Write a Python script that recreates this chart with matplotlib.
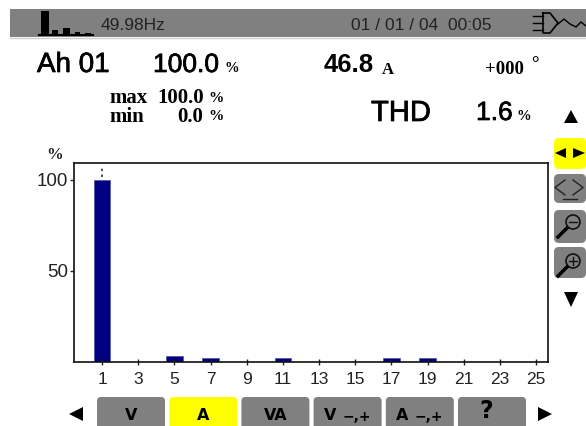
import matplotlib.pyplot as plt
import matplotlib.patheffects as pe
from matplotlib.patches import Rectangle, FancyBboxPatch, Polygon, Circle

W, H = 586, 426
SANS = 'Liberation Sans'
SERIF = 'Liberation Serif'
BOLD = 'DejaVu Sans'

ranks = list(range(1, 26))
percent = [100.0, 0, 0, 0, 3.2, 0, 2.2, 0, 0, 0, 2.2, 0, 0, 0, 0, 0, 2.0, 0, 2.0, 0, 0, 0, 0, 0, 0]
x_ticks = list(range(1, 26, 2))
y_ticks = [50, 100]
buttons = ['V', 'A', 'VA', 'V', 'A', '?']

fig = plt.figure(figsize=(W / 100, H / 100), dpi=100)

# whole picture in pixels, for the instrument screen around the chart
ui = fig.add_axes([0, 0, 1, 1])
ui.set_xlim(0, W)
ui.set_ylim(H, 0)
ui.axis('off')

ax = fig.add_axes([74 / W, 1 - 362 / H, 474 / W, 198.5 / H])
ax.bar(ranks, percent, width=0.9, color='#000080', edgecolor='#5050a8', linewidth=0.5)
ax.plot([1, 1], [101.5, 107.5], color='#333333', lw=1.2, ls=(0, (1.5, 2)))
ax.set_xlim(-0.55, 25.66)
ax.set_ylim(0, 109)
ax.set_xticks(x_ticks)
ax.set_yticks(y_ticks)
ax.tick_params(axis='x', length=4, width=1, pad=5, labelsize=12.5, direction='inout', colors='#222222')
ax.tick_params(axis='y', length=3, width=1, pad=1, labelsize=13.5, direction='out', colors='#222222')
for lab in ax.get_xticklabels() + ax.get_yticklabels():
    lab.set_family(SANS)
for s in ax.spines.values():
    s.set_linewidth(1.2)
    s.set_color('#111111')


def put(x, y, s, size, family=SANS, weight='normal', color='black', ha='left', heavy=0):
    t = ui.text(x, y, s, fontsize=size, family=family, weight=weight, color=color, ha=ha, va='center')
    if heavy:
        t.set_path_effects([pe.withStroke(linewidth=heavy, foreground=color)])


def tri(points, color='black'):
    ui.add_patch(Polygon(points, closed=True, color=color, lw=0))


# header band
ui.add_patch(Rectangle((10, 9), 576, 28, color='#808080', lw=0))
ui.plot([10, 586], [37.5, 37.5], color='#cfcfcf', lw=1)
for x0, w, top in [(41, 8, 11), (52, 6, 30), (63, 7, 28), (75, 5, 32), (85, 6, 33)]:
    ui.add_patch(Rectangle((x0, top), w, 35 - top, color='black', lw=0))
ui.plot([39, 93], [35, 35], color='black', lw=1.5)
put(101, 25, '49.98Hz', 12.5, color='#222222')
put(351, 25, '01 / 01 / 04  00:05', 12.5, color='#222222')

# plug icon
for py in [16, 23, 30]:
    ui.plot([533, 543], [py, py], color='black', lw=1)
ui.plot([543, 550, 558, 550, 543, 543], [13, 13, 23, 33, 33, 13], color='black', lw=1.2)
ui.plot([558, 564, 570, 576, 581, 586], [24, 19, 24, 27, 22, 26], color='black', lw=1)

# readings
put(37, 65, 'Ah 01', 20, heavy=0.5)
put(153, 65, '100.0', 19, heavy=0.5)
put(225, 69, '%', 10.5, SERIF, 'bold')
put(324, 65, '46.8', 18.5, weight='bold')
put(382, 70, 'A', 12, SERIF, 'bold')
put(485, 69, '+000', 13.5, SERIF, 'bold')
put(531, 65, '°', 13.5, SERIF, 'bold')
put(109, 98, 'max', 15, SERIF, 'bold')
put(157, 98, '100.0', 15, SERIF, 'bold')
put(208, 98, '%', 11, SERIF, 'bold')
put(109, 117, 'min', 15, SERIF, 'bold')
put(177, 117, '0.0', 15, SERIF, 'bold')
put(208, 117, '%', 11, SERIF, 'bold')
put(371, 113, 'THD', 21, heavy=0.5)
put(476, 113, '1.6', 19, heavy=0.5)
put(516, 116, '%', 10.5, SERIF, 'bold')
put(46, 155, '%', 12, SERIF, 'bold', color='#222222')

# side controls
tri([(571, 110), (578, 123), (564, 123)])
tri([(571, 307), (578, 292), (564, 292)])
for i, (top, h) in enumerate([(138, 31), (174, 29), (210, 33), (247, 31)]):
    fc = '#ffff00' if i == 0 else '#808080'
    ui.add_patch(FancyBboxPatch((554, top), 32, h, boxstyle='round,pad=0,rounding_size=5', fc=fc, ec='none'))
tri([(555, 153), (566, 148), (566, 158)])
tri([(585, 153), (573, 148), (573, 158)])
ui.plot([565, 555, 565], [180, 187.5, 195], color='#222222', lw=1)
ui.plot([573, 583, 573], [180, 187.5, 195], color='#222222', lw=1)
ui.plot([563, 577], [199, 199], color='#222222', lw=1)
for cy, plus in [(222, False), (261, True)]:
    ui.add_patch(Circle((573, cy), 7, fc='none', ec='#111111', lw=1.2))
    ui.plot([558, 567], [cy + 15, cy + 6], color='black', lw=2.5)
    ui.plot([569, 577], [cy, cy], color='#111111', lw=1)
    if plus:
        ui.plot([573, 573], [cy - 4, cy + 4], color='#111111', lw=1)

# bottom buttons
tri([(69, 414), (83, 407), (83, 421)])
tri([(538, 407), (552, 414), (538, 421)])
for i, label in enumerate(buttons):
    x0 = 97 + i * 72.2
    fc = '#ffff00' if i == 1 else '#808080'
    ui.add_patch(FancyBboxPatch((x0, 397), 68, 40, boxstyle='round,pad=0,rounding_size=4', fc=fc, ec='none'))
    if i in (3, 4):
        put(x0 + 10, 416, label, 11.5, BOLD, 'bold')
        put(x0 + 29, 417, '−,+', 10, BOLD, 'bold')
    elif label == '?':
        put(x0 + 28, 411, label, 17, BOLD, 'bold', ha='center')
    else:
        put(x0 + 34, 416, label, 11.5, BOLD, 'bold', ha='center')

fig.savefig('out.png', dpi=100)
